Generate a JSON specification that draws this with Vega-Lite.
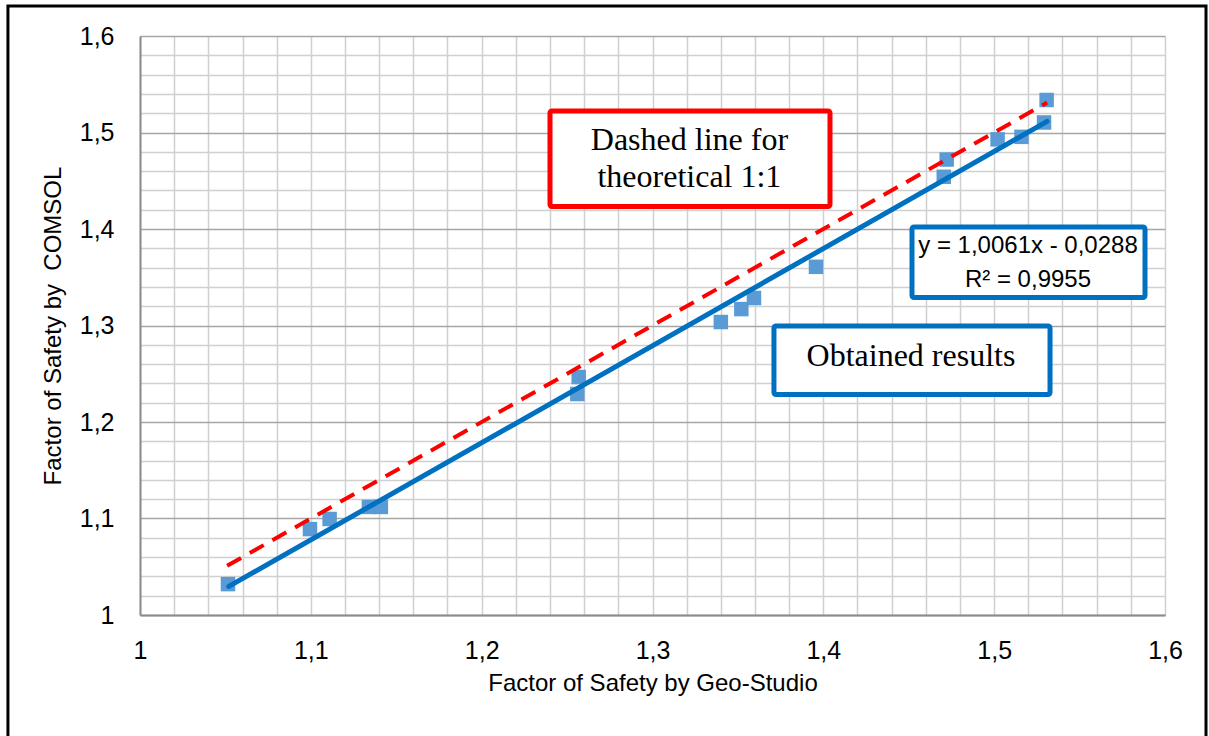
{
  "$schema": "https://vega.github.io/schema/vega-lite/v6.json",
  "width": 1025,
  "height": 579,
  "autosize": {"type": "none"},
  "padding": {"left": 140, "top": 36, "right": 44, "bottom": 121},
  "background": "white",
  "config": {
    "view": {"stroke": null},
    "axis": {
      "labelFont": "Liberation Sans",
      "titleFont": "Liberation Sans",
      "labelColor": "#000000",
      "titleColor": "#000000",
      "titleFontSize": 24,
      "titleFontWeight": "normal",
      "ticks": false,
      "domainColor": "#8C8C8C",
      "domainWidth": 2,
      "labelOverlap": false,
      "labelFlush": false
    }
  },
  "datasets": {
    "points": [
      {"x": 1.0515, "y": 1.032},
      {"x": 1.0995, "y": 1.089},
      {"x": 1.111, "y": 1.0995},
      {"x": 1.134, "y": 1.112},
      {"x": 1.141, "y": 1.112},
      {"x": 1.2568, "y": 1.2466},
      {"x": 1.256, "y": 1.229},
      {"x": 1.34, "y": 1.3036},
      {"x": 1.352, "y": 1.317},
      {"x": 1.3594, "y": 1.3285},
      {"x": 1.3957, "y": 1.3608},
      {"x": 1.4722, "y": 1.472},
      {"x": 1.4705, "y": 1.4541},
      {"x": 1.502, "y": 1.4929},
      {"x": 1.516, "y": 1.4955},
      {"x": 1.5307, "y": 1.5337},
      {"x": 1.5292, "y": 1.5104}
    ],
    "fit": [
      {"x": 1.052, "y": 1.0296},
      {"x": 1.531, "y": 1.5115}
    ],
    "ideal": [
      {"x": 1.051, "y": 1.051},
      {"x": 1.531, "y": 1.531}
    ],
    "boxes": [
      {"kind": "theory", "x": 1.24, "x2": 1.4039, "y": 1.5223, "y2": 1.4233},
      {"kind": "fit", "x": 1.4519, "x2": 1.5883, "y": 1.4021, "y2": 1.329},
      {"kind": "fit", "x": 1.3711, "x2": 1.5327, "y": 1.2995, "y2": 1.2285}
    ],
    "serifText": [
      {"label": "Dashed line for\ntheoretical 1:1", "x": 1.3216, "y": 1.4918},
      {"label": "Obtained results", "x": 1.4513, "y": 1.2685}
    ],
    "equation": [
      {"label": "y = 1,0061x - 0,0288\nR² = 0,9955", "x": 1.5198, "y": 1.3824}
    ],
    "frame": [
      {"x": 0.9227, "x2": 1.624, "y": 1.6311, "y2": 0.8653}
    ]
  },
  "encoding": {
    "x": {
      "field": "x",
      "type": "quantitative",
      "scale": {"domain": [1, 1.6], "nice": false, "zero": false},
      "axis": {
        "title": "Factor of Safety by Geo-Studio",
        "values": [1,1.02,1.04,1.06,1.08,1.1,1.12,1.14,1.16,1.18,1.2,1.22,1.24,1.26,1.28,1.3,1.32,1.34,1.36,1.38,1.4,1.42,1.44,1.46,1.48,1.5,1.52,1.54,1.56,1.58,1.6],
        "labelExpr": "abs(datum.value*10-round(datum.value*10))<0.001 ? replace(format(datum.value,'.1~f'),'.',',') : ''",
        "labelFontSize": 25,
        "labelFlush": false,
        "labelPadding": 23,
        "titlePadding": 8,
        "titleFontSize": 24,
        "gridColor": "#D0D0D0",
        "gridWidth": 1.5
      }
    },
    "y": {
      "field": "y",
      "type": "quantitative",
      "scale": {"domain": [1, 1.6], "nice": false, "zero": false},
      "axis": {
        "title": "Factor of Safety by \u00a0COMSOL",
        "values": [1,1.02,1.04,1.06,1.08,1.1,1.12,1.14,1.16,1.18,1.2,1.22,1.24,1.26,1.28,1.3,1.32,1.34,1.36,1.38,1.4,1.42,1.44,1.46,1.48,1.5,1.52,1.54,1.56,1.58,1.6],
        "labelExpr": "abs(datum.value*10-round(datum.value*10))<0.001 ? replace(format(datum.value,'.1~f'),'.',',') : ''",
        "labelFontSize": 25,
        "labelFlush": false,
        "labelPadding": 26,
        "titlePadding": 14,
        "titleFontSize": 24,
        "gridColor": {"condition": {"test": "abs(datum.value*10-round(datum.value*10))<0.001", "value": "#A6A6A6"}, "value": "#D0D0D0"},
        "gridWidth": 1.5
      }
    }
  },
  "layer": [
    {
      "data": {"name": "frame"},
      "mark": {"type": "rect", "fill": null, "stroke": "#000000", "strokeWidth": 3, "clip": false},
      "encoding": {
        "x2": {"field": "x2"},
        "y2": {"field": "y2"}
      }
    },
    {
      "data": {"name": "points"},
      "mark": {"type": "point", "shape": "square", "filled": true, "size": 210, "color": "#5B9BD5", "opacity": 1}
    },
    {
      "data": {"name": "fit"},
      "mark": {"type": "line", "color": "#0070C0", "strokeWidth": 5, "strokeCap": "round"}
    },
    {
      "data": {"name": "ideal"},
      "mark": {"type": "line", "color": "#FF0000", "strokeWidth": 4, "strokeDash": [16, 10]}
    },
    {
      "data": {"name": "boxes"},
      "mark": {"type": "rect", "fill": "white", "strokeWidth": 5, "cornerRadius": 2},
      "encoding": {
        "x2": {"field": "x2"},
        "y2": {"field": "y2"},
        "stroke": {"field": "kind", "type": "nominal", "scale": {"domain": ["theory", "fit"], "range": ["#FF0000", "#0070C0"]}, "legend": null}
      }
    },
    {
      "data": {"name": "serifText"},
      "mark": {"type": "text", "font": "Liberation Serif", "fontSize": 32, "color": "#000000", "align": "center", "baseline": "middle", "lineBreak": "\n", "lineHeight": 37},
      "encoding": {"text": {"field": "label"}}
    },
    {
      "data": {"name": "equation"},
      "mark": {"type": "text", "font": "Liberation Sans", "fontSize": 24, "color": "#000000", "align": "center", "baseline": "middle", "lineBreak": "\n", "lineHeight": 34},
      "encoding": {"text": {"field": "label"}}
    }
  ]
}
